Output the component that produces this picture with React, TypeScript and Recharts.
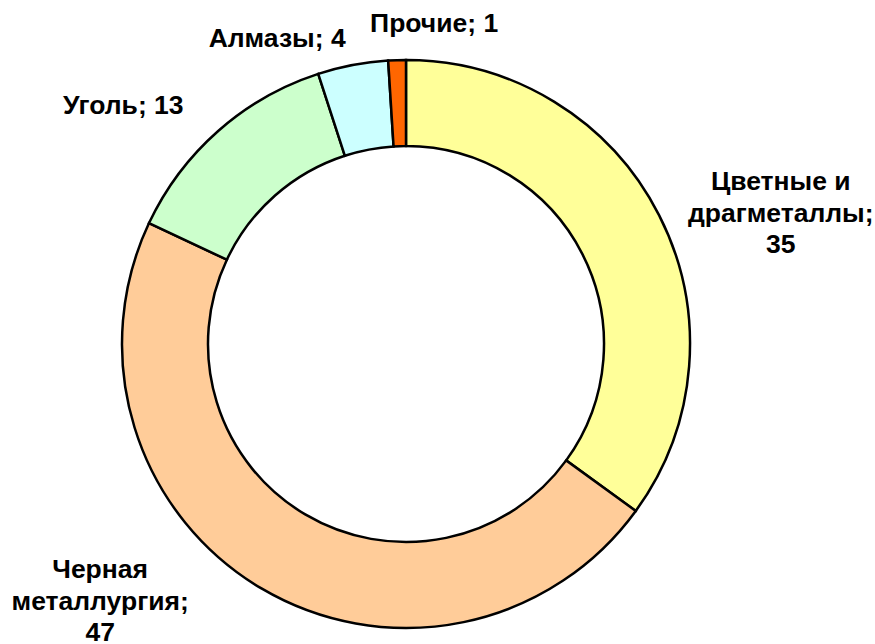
import { PieChart, Pie, Cell } from 'recharts';

const categories = ['Цветные и драгметаллы', 'Черная металлургия', 'Уголь', 'Алмазы', 'Прочие'];
const values = [35, 47, 13, 4, 1];
const colors = ['#FFFF99', '#FFCC99', '#CCFFCC', '#CCFFFF', '#FF6600'];

// nudges from the radial anchor point to where the label block sits; wrap = multi-line label
const labelLayout: Record<string, { dx: number; dy: number; wrap: boolean }> = {
  'Цветные и драгметаллы': { dx: 95, dy: -11, wrap: true },
  'Черная металлургия': { dx: -146, dy: -36, wrap: true },
  'Уголь': { dx: -75, dy: 6, wrap: false },
  'Алмазы': { dx: -70, dy: 11, wrap: false },
  'Прочие': { dx: 38, dy: 2, wrap: false },
};

const data = categories.map((name, i) => ({ name, value: values[i] }));

const RADIAN = Math.PI / 180;
const LINE_H = 31.5;

const renderLabel = (props: any) => {
  const { cx, cy, midAngle, outerRadius, index } = props;
  const name = categories[index];
  const value = values[index];
  const layout = labelLayout[name];
  const r = outerRadius + 30;
  const x = cx + r * Math.cos(-midAngle * RADIAN) + layout.dx;
  const y = cy + r * Math.sin(-midAngle * RADIAN) + layout.dy;

  let lines: string[];
  if (layout.wrap) {
    const cut = name.lastIndexOf(' ');
    lines = [name.slice(0, cut), name.slice(cut + 1) + ';', String(value)];
  } else {
    lines = [`${name}; ${value}`];
  }

  return (
    <text
      x={x}
      y={y}
      textAnchor="middle"
      fill="#000"
      fontFamily="'Liberation Sans', Arial, sans-serif"
      fontWeight="bold"
      fontSize={26.5}
    >
      {lines.map((line, i) => (
        <tspan key={i} x={x} y={y + i * LINE_H}>
          {line}
        </tspan>
      ))}
    </text>
  );
};

export default function App() {
  return (
    <div style={{ position: 'absolute', left: 0, top: 0, width: 875, height: 644, background: '#fff' }}>
      <PieChart width={875} height={644} margin={{ top: 0, right: 0, bottom: 0, left: 0 }}>
        <Pie
          data={data}
          dataKey="value"
          nameKey="name"
          cx={406}
          cy={344}
          innerRadius={198}
          outerRadius={284}
          startAngle={90}
          endAngle={-270}
          stroke="#000"
          strokeWidth={2.5}
          label={renderLabel}
          labelLine={false}
          isAnimationActive={false}
        >
          {data.map((entry, index) => (
            <Cell key={`cell-${index}`} fill={colors[index]} />
          ))}
        </Pie>
      </PieChart>
    </div>
  );
}
